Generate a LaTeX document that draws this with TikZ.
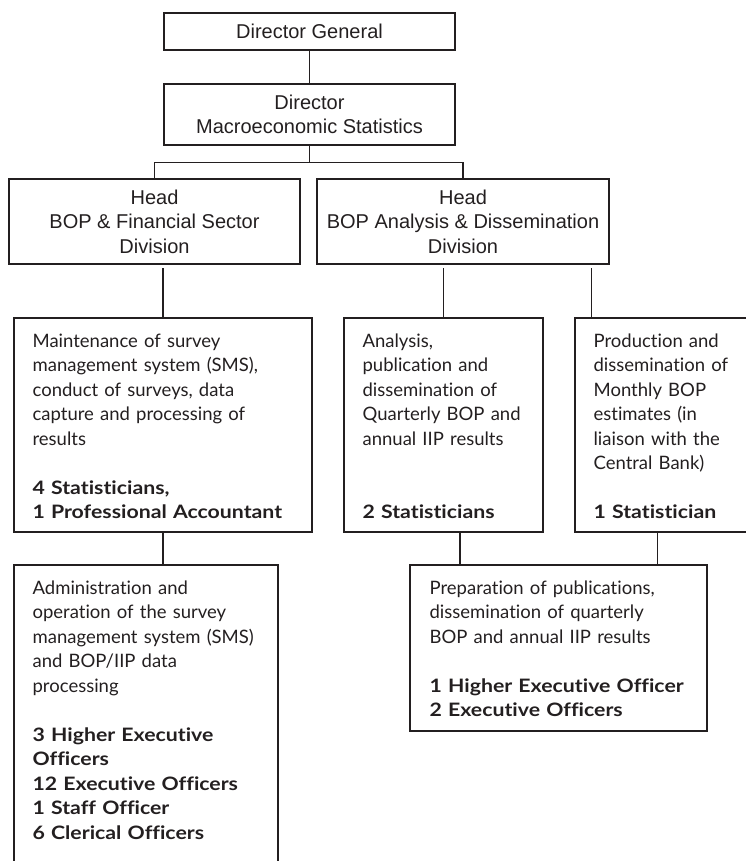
\documentclass[tikz,border=0pt]{standalone}
\usepackage{fontspec}
\setmainfont{Liberation Sans}
\newfontfamily\gill{Lato}[Ligatures=CommonOff, BoldFeatures={FakeStretch=1.15}]
\definecolor{ink}{HTML}{231F20}
\begin{document}
\begin{tikzpicture}[x=1pt,y=-1pt,
  line width=1.2pt, draw=ink, text=ink,
  topbox/.style={draw=ink, line width=1.2pt, inner sep=2pt, align=center,
    font=\fontsize{20}{24.5}\selectfont},
  taskbox/.style={draw=ink, line width=1.2pt, inner sep=0pt},
  tasktext/.style={anchor=base west, inner sep=0pt, align=left, text width=300pt,
    font=\gill\fontsize{18.5}{24.5}\selectfont},
  link/.style={draw=ink, line width=1.2pt}]
\path[use as bounding box] (0,0) rectangle (746,861);

% top boxes
\node[topbox, minimum width=291pt, minimum height=37pt] (dg) at (309.5,31.5) {Director General};
\node[topbox, minimum width=291pt, minimum height=61pt] (dir) at (309.5,114.5) {Director\\Macroeconomic Statistics};
\node[topbox, minimum width=291pt, minimum height=85pt] (h1) at (154.5,221.5) {Head\\BOP \& Financial Sector\\Division};
\node[topbox, minimum width=292pt, minimum height=85pt] (h2) at (463,221.5) {Head\\BOP Analysis \& Dissemination\\Division};

% task boxes
\node[taskbox, minimum width=298pt, minimum height=214pt] (m) at (163,425) {};
\node[taskbox, minimum width=199pt, minimum height=214pt] (an) at (443.5,425) {};
\node[taskbox, minimum width=200pt, minimum height=214pt] (pr) at (675,425) {};
\node[taskbox, minimum width=264pt, minimum height=335pt] (bl) at (146,732.5) {};
\node[taskbox, minimum width=297pt, minimum height=166pt] (br) at (558.5,648) {};

% texts
\node[tasktext] (tm) at (32,347) {Maintenance of survey\\
management system (SMS),\\
conduct of surveys, data\\
capture and processing of\\
results\\[24.5pt]
\textbf{4 Statisticians,}\\
\textbf{1 Professional Accountant}};
\node[tasktext] (ta) at (362,347) {Analysis,\\
publication and\\
dissemination of\\
Quarterly BOP and\\
annual IIP results\\[49pt]
\textbf{2 Statisticians}};
\node[tasktext] (tp) at (593,347) {Production and\\
dissemination of\\
Monthly BOP\\
estimates (in\\
liaison with the\\
Central Bank)\\[24.5pt]
\textbf{1 Statistician}};
\node[tasktext] (tbl) at (32,594) {Administration and\\
operation of the survey\\
management system (SMS)\\
and BOP/IIP data\\
processing\\[24.5pt]
\textbf{3 Higher Executive}\\
\textbf{Officers}\\
\textbf{12 Executive Officers}\\
\textbf{1 Staff Officer}\\
\textbf{6 Clerical Officers}};
\node[tasktext] (tbr) at (429,594) {Preparation of publications,\\
dissemination of quarterly\\
BOP and annual IIP results\\[24.5pt]
\textbf{1 Higher Executive Officer}\\
\textbf{2 Executive Officers}};

% helper coordinates
\coordinate (g1) at ([yshift=-3.5pt]h1.south);
\coordinate (g2) at ([yshift=-3.5pt]h2.south);
\coordinate (prin) at ([xshift=17pt]pr.north west);
\coordinate (anout) at ([xshift=16.5pt]an.south);
\coordinate (prout) at ([xshift=83pt]pr.south west);

% connectors
\draw[link] (dg) -- (dir);
\draw[link] (dir.south) -- ++(0,17) -| (h1.north);
\draw[link] (dir.south) -- ++(0,17) -| (h2.north);
\draw[link] (g1 -| m.north) -- (m.north);
\draw[link] (g2 -| an.north) -- (an.north);
\draw[link] (g2 -| prin) -- (prin);
\draw[link] (m.south) -- (m.south |- bl.north);
\draw[link] (anout) -- (anout |- br.north);
\draw[link] (prout) -- (prout |- br.north);
\end{tikzpicture}
\end{document}
